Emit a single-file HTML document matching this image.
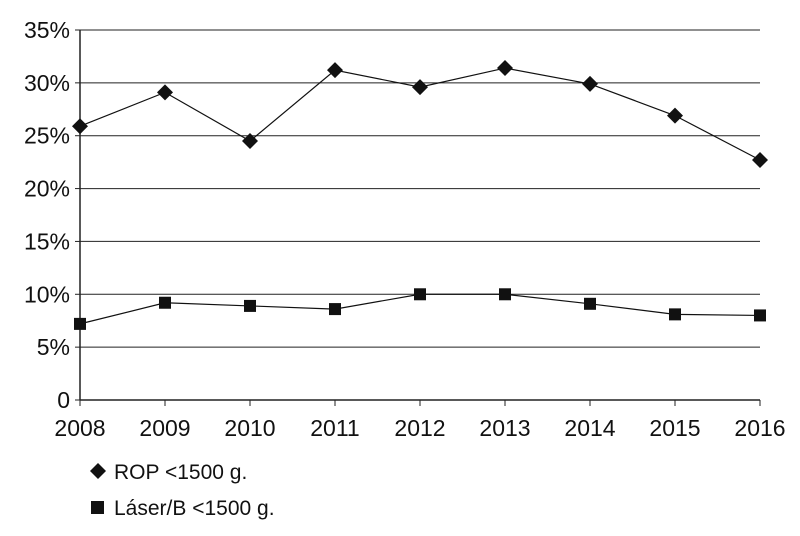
<!DOCTYPE html>
<html><head><meta charset="utf-8"><style>
body{margin:0;background:#fff}
svg text{font-family:"Liberation Sans Narrow","Liberation Sans",sans-serif;fill:#111}
</style></head><body>
<svg width="800" height="531" viewBox="0 0 800 531">
<g id="grid"></g><g id="axes"></g><g id="series"></g>
<g>
<path d="M98 463 L106 471 L98 479 L90 471Z" fill="#111"/>
<text x="114" y="479" font-size="21">ROP &lt;1500 g.</text>
<rect x="91" y="501" width="13" height="13" fill="#111"/>
<text x="114" y="515" font-size="21">Láser/B &lt;1500 g.</text>
</g>
</svg>
<script>
const years=["2008","2009","2010","2011","2012","2013","2014","2015","2016"];
const rop=[25.9,29.1,24.5,31.2,29.6,31.4,29.9,26.9,22.7];
const laser=[7.2,9.2,8.9,8.6,10.0,10.0,9.1,8.1,8.0];
const yTicks=[0,5,10,15,20,25,30,35];
const yTickLabels=["0","5%","10%","15%","20%","25%","30%","35%"];
const NS="http://www.w3.org/2000/svg";
const x0=80,x1=760,yb=400,yt=30,ymax=35;
const X=i=>x0+i*(x1-x0)/(years.length-1);
const Y=v=>yb-v*(yb-yt)/ymax;
function mk(t,a,p){const e=document.createElementNS(NS,t);for(const k in a)e.setAttribute(k,a[k]);p.appendChild(e);return e;}
const grid=document.getElementById('grid'),axes=document.getElementById('axes'),ser=document.getElementById('series');
yTicks.forEach((v,i)=>{
 if(v>0){const l=mk('line',{x1:x0,x2:x1,y1:Y(v),y2:Y(v),stroke:'#222','stroke-width':1},grid);
 
 }
 const tk=mk('line',{x1:x0-5,x2:x0,y1:Y(v),y2:Y(v),stroke:'#222'},axes);
 
 
 const t=mk('text',{x:x0-10,y:Y(v)+8,'text-anchor':'end','font-size':23},axes);
 t.textContent=yTickLabels[i];
 
 
});
const ya=mk('line',{x1:x0,x2:x0,y1:yt,y2:yb,stroke:'#222','stroke-width':1.5},axes);


const xa=mk('line',{x1:x0,x2:x1,y1:yb,y2:yb,stroke:'#222','stroke-width':1.5},axes);


years.forEach((y,i)=>{
 const tk=mk('line',{x1:X(i),x2:X(i),y1:yb,y2:yb+6,stroke:'#222'},axes);
 
 
 const t=mk('text',{x:X(i),y:yb+36,'text-anchor':'middle','font-size':23},axes);
 t.textContent=y;
 
 
});
function line(vals,name){
 const p=mk('polyline',{points:vals.map((v,i)=>X(i)+','+Y(v)).join(' '),fill:'none',stroke:'#111','stroke-width':1.2},ser);
 
 
}
line(rop,'rop');line(laser,'laser');
rop.forEach((v,i)=>{const x=X(i),y=Y(v);
 const m=mk('path',{d:`M${x} ${y-8}L${x+8} ${y}L${x} ${y+8}L${x-8} ${y}Z`,fill:'#111'},ser);
 
 });
laser.forEach((v,i)=>{const x=X(i),y=Y(v);
 const m=mk('rect',{x:x-6,y:y-6,width:12,height:12,fill:'#111'},ser);
 
 });
</script>
</body></html>
